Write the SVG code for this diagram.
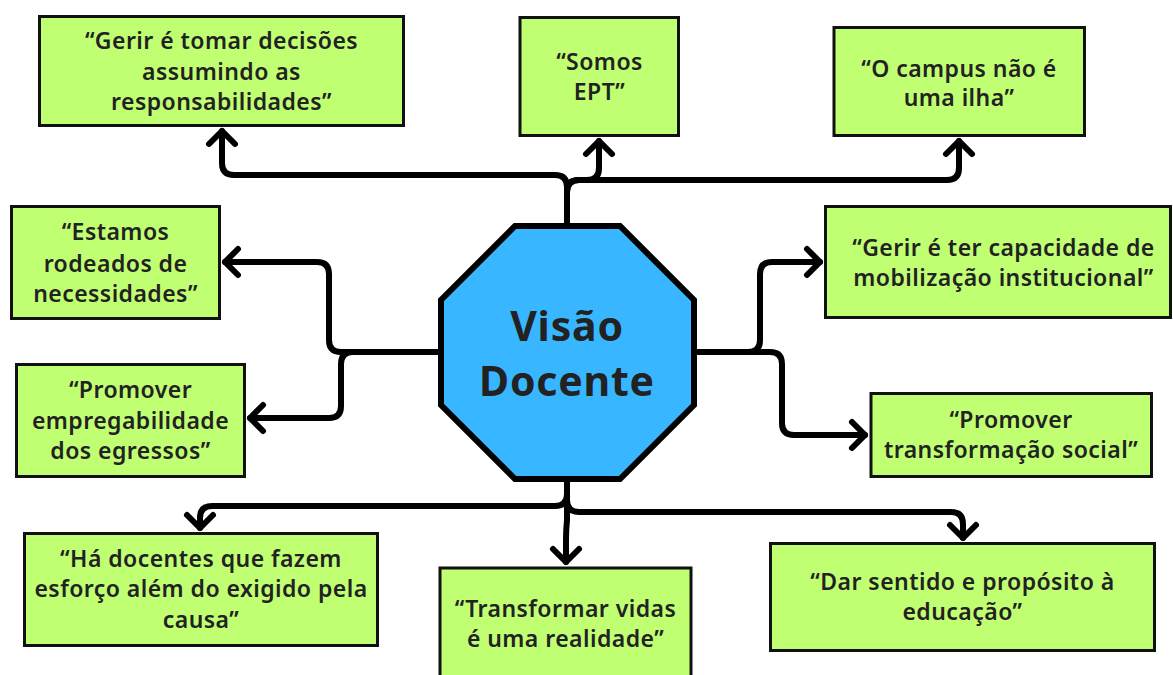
<svg xmlns="http://www.w3.org/2000/svg" width="1173" height="675" viewBox="0 0 1173 675">
<defs>
<style>
.box{fill:#c1ff72;stroke:#111;stroke-width:3}
.t{font-family:"Noto Sans","Open Sans","Liberation Sans",sans-serif;font-weight:600;font-size:23px;letter-spacing:0.45px;fill:#222;text-anchor:middle}
.big{font-family:"Noto Sans","Open Sans","Liberation Sans",sans-serif;font-weight:700;font-size:41px;letter-spacing:0.8px;fill:#222;text-anchor:middle}
.c{fill:none;stroke:#000;stroke-width:6;stroke-linejoin:round;stroke-linecap:round}
</style>
<marker id="arr" viewBox="-20 -20 30 40" refX="0" refY="0" markerWidth="30" markerHeight="40" markerUnits="userSpaceOnUse" orient="auto">
<path d="M-13,-13 L0,0 L-13,13" fill="none" stroke="#000" stroke-width="6" stroke-linecap="round" stroke-linejoin="round"/>
</marker>
</defs>
<rect width="1173" height="675" fill="#fff"/>
<g id="connectors">
<path class="c" marker-end="url(#arr)" d="M567,226 V187 Q567,175 555,175 H234 Q222,175 222,163 V131"/>
<path class="c" marker-end="url(#arr)" d="M567,226 V192 Q567,180 579,180 H587 Q599,180 599,168 V141"/>
<path class="c" marker-end="url(#arr)" d="M567,226 V192 Q567,180 579,180 H947 Q959,180 959,168 V141"/>
<path class="c" marker-end="url(#arr)" d="M441,352 H341 Q329,352 329,340 V274 Q329,262 317,262 H225"/>
<path class="c" marker-end="url(#arr)" d="M441,352 H353 Q341,352 341,364 V406 Q341,418 329,418 H250"/>
<path class="c" marker-end="url(#arr)" d="M694,352 H748 Q760,352 760,340 V274 Q760,262 772,262 H820"/>
<path class="c" marker-end="url(#arr)" d="M694,352 H770 Q782,352 782,364 V423 Q782,435 794,435 H865"/>
<path class="c" marker-end="url(#arr)" d="M567,479 V494 Q567,506 555,506 H212 Q200,506 200,518 V528"/>
<path class="c" marker-end="url(#arr)" d="M567,479 V520 Q566,530 566,540 V562"/>
<path class="c" marker-end="url(#arr)" d="M567,479 V500 Q567,512 579,512 H951 Q963,512 963,524 V538"/>
</g>
<g id="center">
<polygon points="515,226 620,226 694,300 694,405 620,479 515,479 441,405 441,300" fill="#38b6ff" stroke="#000" stroke-width="6" stroke-linejoin="miter"/>
<text class="big" x="567" y="341">Visão</text>
<text class="big" x="567" y="396">Docente</text>
</g>
<g id="nodeA">
<rect class="box" x="39.5" y="16.5" width="364" height="109"/>
<text class="t" x="221.5" y="49">“Gerir é tomar decisões</text>
<text class="t" x="221.5" y="80">assumindo as</text>
<text class="t" x="221.5" y="110">responsabilidades”</text>
</g>
<g id="nodeB">
<rect class="box" x="520" y="17.5" width="158.5" height="118"/>
<text class="t" x="599.5" y="70">“Somos</text>
<text class="t" x="599.5" y="100">EPT”</text>
</g>
<g id="nodeC">
<rect class="box" x="834" y="27.5" width="250.5" height="108"/>
<text class="t" x="959" y="77">“O campus não é</text>
<text class="t" x="959" y="106">uma ilha”</text>
</g>
<g id="nodeD">
<rect class="box" x="11.5" y="206.5" width="208" height="112"/>
<text class="t" x="115.5" y="240">“Estamos</text>
<text class="t" x="115.5" y="272">rodeados de</text>
<text class="t" x="115.5" y="302">necessidades”</text>
</g>
<g id="nodeE">
<rect class="box" x="825.5" y="206.5" width="345" height="111"/>
<text class="t" x="1003.5" y="256">“Gerir é ter capacidade de</text>
<text class="t" x="1003.5" y="286">mobilização institucional”</text>
</g>
<g id="nodeF">
<rect class="box" x="16.5" y="364.5" width="228" height="112"/>
<text class="t" x="130.5" y="398">“Promover</text>
<text class="t" x="130.5" y="429">empregabilidade</text>
<text class="t" x="130.5" y="459">dos egressos”</text>
</g>
<g id="nodeG">
<rect class="box" x="871" y="393.5" width="280.5" height="83"/>
<text class="t" x="1011" y="428">“Promover</text>
<text class="t" x="1011" y="458">transformação social”</text>
</g>
<g id="nodeH">
<rect class="box" x="24.5" y="533.5" width="353" height="112"/>
<text class="t" x="201" y="567">“Há docentes que fazem</text>
<text class="t" x="201" y="597">esforço além do exigido pela</text>
<text class="t" x="201" y="628">causa”</text>
</g>
<g id="nodeI">
<rect class="box" x="440" y="568" width="251" height="120"/>
<text class="t" x="565.5" y="617">“Transformar vidas</text>
<text class="t" x="565.5" y="647">é uma realidade”</text>
</g>
<g id="nodeJ">
<rect class="box" x="770.5" y="543.5" width="384" height="107"/>
<text class="t" x="962.5" y="590">“Dar sentido e propósito à</text>
<text class="t" x="962.5" y="620">educação”</text>
</g>
</svg>
